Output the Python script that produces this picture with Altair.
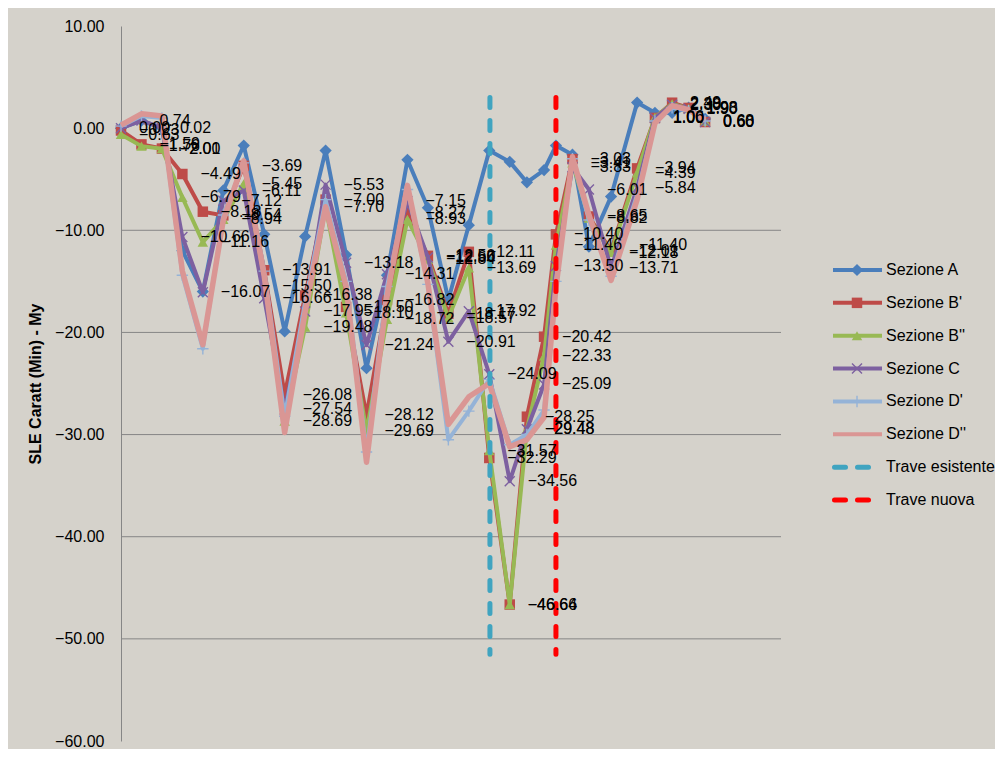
import altair as alt
import pandas as pd

# ---------------- data ----------------
X = [0.00, 0.62, 1.24, 1.86, 2.48, 3.10, 3.72, 4.34, 4.96, 5.58, 6.20, 6.82, 7.44, 8.06,
     8.68, 9.30, 9.92, 10.54, 11.16, 11.78, 12.30, 12.82, 13.18, 13.68, 14.18, 14.85,
     15.64, 16.18, 16.70, 17.20, 17.70]

SEZ_A = [0.00, 0.74, 0.02, -12.0, -16.0, -6.1, -1.7, -10.4, -19.9, -10.6, -2.2, -12.4, -23.5, -14.4,
         -3.1, -7.8, -16.8, -9.5, -2.2, -3.3, -5.3, -4.1, -1.7, -2.6, -11.6, -6.7,
         2.5, 1.5, 1.5, 2.0, 0.9]
SEZ_B1 = [-0.23, -1.59, -2.00, -4.49, -8.18, -8.54, -3.69, -13.91, -26.08, -16.38, -7.00, -17.50, -28.12, -16.82,
          -8.27, -12.50, -18.17, -12.11, -32.29, -46.64, -28.25, -20.42, -10.40, -3.03, -8.65, -12.01,
          -3.94, 1.00, 2.49, 1.98, 0.60]
SEZ_B2 = [-0.63, -1.76, -2.01, -6.79, -11.16, -8.94, -5.45, -15.50, -28.69, -19.48, -7.70, -18.10, -29.69, -18.72,
          -8.93, -12.84, -18.57, -13.69, -31.57, -46.66, -29.48, -22.33, -11.46, -3.41, -8.82, -12.18,
          -4.39, 1.06, 2.38, 1.93, 0.68]
SEZ_C = [0.00, 0.74, 0.02, -10.66, -16.07, -7.12, -6.11, -16.66, -27.54, -17.95, -5.53, -13.18, -21.24, -14.31,
         -7.15, -12.66, -20.91, -17.92, -24.09, -34.56, -29.48, -25.09, -13.50, -3.83, -6.01, -13.71,
         -5.84, 1.00, 2.30, 1.90, 0.60]
SEZ_D1 = [0.2, 1.2, 1.0, -14.4, -21.6, -8.5, -3.4, -14.0, -28.2, -17.0, -7.0, -15.0, -31.7, -15.5,
          -6.0, -15.3, -30.5, -27.7, -24.6, -31.0, -30.0, -27.6, -15.0, -3.0, -9.0, -14.5,
          -6.5, 0.7, 2.0, 1.7, 0.7]
SEZ_D2 = [0.3, 1.4, 1.2, -14.0, -21.2, -9.0, -3.2, -14.5, -29.8, -18.0, -7.7, -15.5, -32.7, -16.5,
          -5.6, -15.2, -29.0, -26.3, -25.0, -31.2, -30.5, -28.3, -15.6, -2.8, -8.5, -14.9,
          -7.0, 0.5, 2.2, 1.8, 0.8]

SERIES = ["Sezione A", "Sezione B'", "Sezione B''", "Sezione C", "Sezione D'", "Sezione D''"]
VALUES = [SEZ_A, SEZ_B1, SEZ_B2, SEZ_C, SEZ_D1, SEZ_D2]
LABELLED = ["Sezione B'", "Sezione B''", "Sezione C"]

# extra data label seen in the chart (value near x = 15.15)
EXTRA_LABEL_X = [15.15]
EXTRA_LABEL_Y = [-11.40]

TRAVE = ["Trave esistente", "Trave nuova"]
TRAVE_X = [11.18, 13.18]
TRAVE_TOP = [3.0, 3.0]
TRAVE_BOT = [-51.5, -51.5]

GRID_Y = [-50, -40, -30, -20, -10]
X_TICKS = [0, 2, 4, 6, 8, 10, 12, 14, 16, 18, 20]
Y_TICKS = [10, 0, -10, -20, -30, -40, -50, -60]

# ---------------- styles ----------------
COLORS = ["#4A7EBB", "#BE4B48", "#98B954", "#7D60A0", "#95B3D7", "#DA9694"]
TRAVE_COLORS = ["#40A4C0", "#FF0000"]
LINE_W = [4, 4, 4, 4, 4, 5.5]
X_PATH = "M-1,-1L1,1M1,-1L-1,1"
PLUS_PATH = "M-1,0L1,0M0,-1L0,1"
# (shape, filled, size) per series; None = no marker
MARKERS = [("diamond", True, 150), ("square", True, 110), ("triangle-up", True, 110),
           (X_PATH, False, 100), (PLUS_PATH, False, 130), None]
FONT = "Liberation Sans"
W, H = 660, 715

rows = []
for name, ys in zip(SERIES, VALUES):
    for i, (x, y) in enumerate(zip(X, ys)):
        rows.append({"series": name, "x": x, "y": y, "i": i})
df = pd.DataFrame(rows)
extra_df = pd.DataFrame({"x": EXTRA_LABEL_X, "y": EXTRA_LABEL_Y})

trave_df = pd.DataFrame({"name": TRAVE, "x": TRAVE_X, "top": TRAVE_TOP, "bot": TRAVE_BOT})
grid_df = pd.DataFrame({"g": GRID_Y})

xs = alt.Scale(domain=[0, 20], nice=False, zero=False)
ys = alt.Scale(domain=[-60, 10], nice=False, zero=False)

x_axis = alt.Axis(values=X_TICKS, format=".2f", offset=-(H - H * 10 / 70), grid=False, ticks=False,
                  domainColor="#868686", domainWidth=1, labelPadding=13, labelFontSize=16,
                  labelColor="#000000", labelFont=FONT, labelFlush=False, title=None)
y_axis = alt.Axis(values=Y_TICKS, format=".2f", grid=False, ticks=False, domainColor="#868686",
                  domainWidth=1, labelPadding=17, labelFontSize=16, labelColor="#000000",
                  labelFont=FONT, title="SLE Caratt (Min) - My", titleFont=FONT, titleFontSize=16,
                  titleFontWeight="bold", titleColor="#000000", titlePadding=11)

layers = []
grid = alt.Chart(grid_df).mark_rule(color="#868686", strokeWidth=1).encode(
    y=alt.Y("g:Q", scale=ys, axis=y_axis),
    x=alt.value(0), x2=alt.value(W))
layers.append(grid)

first = True
for name, color, lw, mk in zip(SERIES, COLORS, LINE_W, MARKERS):
    sub = alt.Chart(df).transform_filter(alt.datum.series == name)
    xenc = alt.X("x:Q", scale=xs, axis=x_axis if first else None)
    first = False
    layers.append(sub.mark_line(color=color, strokeWidth=lw, strokeJoin="round").encode(
        x=xenc, y=alt.Y("y:Q", scale=ys), order="i:Q"))
    if mk is not None:
        shape, filled, size = mk
        if filled:
            pm = sub.mark_point(shape=shape, filled=True, color=color, opacity=1, size=size)
        else:
            pm = sub.mark_point(shape=shape, filled=False, color=color, opacity=1, size=size,
                                strokeWidth=1.4)
        layers.append(pm.encode(x=alt.X("x:Q", scale=xs), y=alt.Y("y:Q", scale=ys)))

for name, color in zip(TRAVE, TRAVE_COLORS):
    layers.append(alt.Chart(trave_df).transform_filter(alt.datum.name == name).mark_rule(
        strokeWidth=5, strokeCap="round", strokeDash=[10, 13], color=color).encode(
        x=alt.X("x:Q", scale=xs), y=alt.Y("top:Q", scale=ys), y2="bot:Q"))

label_style = dict(align="left", baseline="middle", dx=18, fontSize=16, font=FONT, color="#000000")
labels = alt.Chart(df).transform_filter(
    alt.FieldOneOfPredicate(field="series", oneOf=LABELLED)
).mark_text(**label_style).encode(
    x=alt.X("x:Q", scale=xs), y=alt.Y("y:Q", scale=ys),
    text=alt.Text("y:Q", format=".2f"))
layers.append(labels)
layers.append(alt.Chart(extra_df).mark_text(**label_style).encode(
    x=alt.X("x:Q", scale=xs), y=alt.Y("y:Q", scale=ys),
    text=alt.Text("y:Q", format=".2f")))

main = alt.layer(*layers).properties(width=W, height=H)

# ---------------- legend panel ----------------
LEG_NAMES = SERIES + TRAVE
leg_df = pd.DataFrame({"name": LEG_NAMES, "row": list(range(len(LEG_NAMES)))})
leg_y = alt.Scale(domain=[0, 7], range=[244, 474])
LX = 1  # legend x shift

leg_layers = []
for name, color, mk in zip(SERIES, COLORS, MARKERS):
    sub = alt.Chart(leg_df).transform_filter(alt.datum.name == name)
    leg_layers.append(sub.mark_rule(strokeWidth=4, color=color).encode(
        y=alt.Y("row:Q", scale=leg_y, axis=None), x=alt.value(51 + LX), x2=alt.value(100 + LX)))
    if mk is not None:
        shape, filled, size = mk
        if filled:
            pm = sub.mark_point(shape=shape, filled=True, color=color, opacity=1, size=size)
        else:
            pm = sub.mark_point(shape=shape, filled=False, color=color, opacity=1, size=size,
                                strokeWidth=1.4)
        leg_layers.append(pm.encode(y=alt.Y("row:Q", scale=leg_y, axis=None), x=alt.value(75 + LX)))
for name, color in zip(TRAVE, TRAVE_COLORS):
    sub = alt.Chart(leg_df).transform_filter(alt.datum.name == name)
    leg_layers.append(sub.mark_rule(strokeWidth=5, strokeCap="round", strokeDash=[11, 12],
                                    color=color).encode(
        y=alt.Y("row:Q", scale=leg_y, axis=None), x=alt.value(52.5 + LX), x2=alt.value(87.5 + LX)))
leg_layers.append(alt.Chart(leg_df).mark_text(align="left", baseline="middle", fontSize=16, font=FONT,
                                              color="#000000").encode(
    y=alt.Y("row:Q", scale=leg_y, axis=None), x=alt.value(104 + LX), text="name:N"))

legend = alt.layer(*leg_layers).properties(width=200, height=H)

chart = alt.hconcat(main, legend, spacing=0, bounds="flush").properties(
    padding={"left": 19, "top": 10, "right": 0, "bottom": 0},
    background="#D5D2CB",
).configure_view(stroke=None).configure_concat(spacing=0)

chart.save("out.html", embed_options={"renderer": "svg", "actions": False})
